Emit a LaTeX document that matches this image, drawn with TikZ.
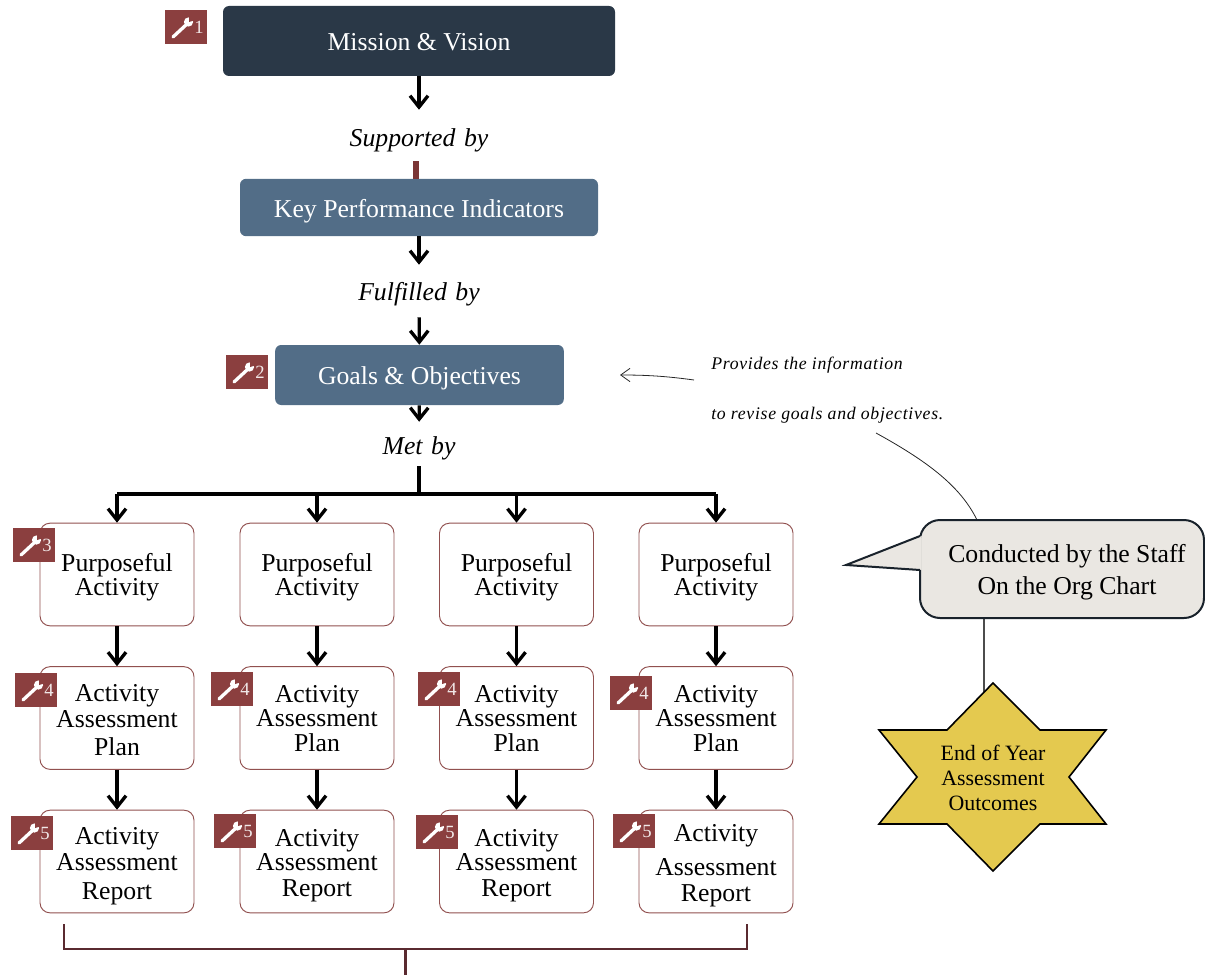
\documentclass[tikz,border=0pt]{standalone}
\usepackage{fontspec}
\setmainfont{Liberation Serif}
\newfontfamily\notefont[LetterSpace=4,ItalicFont={Liberation Serif Italic}]{Liberation Serif}
\usetikzlibrary{arrows.meta}
\usetikzlibrary{positioning}
\definecolor{navy}{HTML}{2A3847}
\definecolor{slate}{HTML}{526D87}
\definecolor{brick}{HTML}{8B3F3F}
\definecolor{edge}{HTML}{91504F}
\definecolor{stub}{HTML}{7B3535}
\definecolor{bracket}{HTML}{5A2A30}
\definecolor{paper}{HTML}{EAE7E2}
\definecolor{gold}{HTML}{E4C94F}
\newcommand{\drop}[1]{\rule{0pt}{#1}}
\tikzset{banner/.style={rectangle,rounded corners=4.5pt,text=white,inner sep=0pt,text height=14.5pt,text depth=0pt,
font=\fontsize{19.3}{22}\selectfont},
phrase/.style={inner sep=0pt,text height=14.5pt,text depth=0pt,text width=200pt,align=center,font=\fontsize{19.3}{22}\selectfont\itshape},
activity/.style={rectangle,draw=edge,line width=.7pt,fill=white,rounded corners=7.5pt,inner sep=0pt,
minimum width=115.5pt,minimum height=77pt,align=center,font=\fontsize{19.3}{18}\selectfont},
badge/.style={rectangle,fill=brick,text=white!88!brick,inner sep=0pt,minimum width=31.5pt,minimum height=25.5pt,
align=right,text width=26.5pt,font=\fontsize{14}{14}\selectfont},
note/.style={inner sep=0pt,anchor=west,font=\fontsize{13.3}{15}\notefont\itshape},
flow/.style={->,line width=2.5pt,black},
thin line/.style={line width=.6pt,black!85},
wrench/.pic={
  \draw [white,line width=2.5pt,line cap=round] (-13,10) -- (1,-3);
  \fill [white] (2.5,-5) circle (4.6);
  \fill [brick] (3,-5) -- (3,-12) -- (10,-7) -- cycle;
},
>={Straight Barb[length=8.5pt,width=13.5pt]}}
\begin{document}
\begin{tikzpicture}[x=.75pt,y=-.75pt]
  \useasboundingbox (0,0) rectangle (1205,977);
  % top column
  \node (mission) [banner,fill=navy,minimum width=294pt,minimum height=52.5pt] at (419,41) {Mission \& Vision};
  \node (supported) [phrase,minimum height=40.5pt] at (419,137) {Supported by};
  \node (kpi) [banner,fill=slate,minimum width=268.5pt,minimum height=43pt] at (419,207.5) {Key Performance Indicators};
  \node (fulfilled) [phrase,minimum height=39pt] at (419,291) {Fulfilled by};
  \node (goals) [banner,fill=slate,minimum width=216.5pt,minimum height=45pt] at (419.5,375) {Goals \& Objectives};
  \node (metby) [phrase,minimum height=34.5pt] at (419,445) {Met by};
  \coordinate (bus) at (419,494);
  % boxes
  \node (pa1) [activity] at (117,574.5) {\drop{18.4pt}Purposeful\\Activity};
  \node (pa2) [activity] at (317,574.5) {\drop{18.4pt}Purposeful\\Activity};
  \node (pa3) [activity] at (516.5,574.5) {\drop{18.4pt}Purposeful\\Activity};
  \node (pa4) [activity] at (716,574.5) {\drop{18.4pt}Purposeful\\Activity};
  \node (plan1) [activity] at (117,718) {\drop{16pt}Activity\\[2pt]Assessment\\[3pt]Plan};
  \node (plan2) [activity] at (317,718) {\drop{14pt}Activity\\Assessment\\[1pt]Plan};
  \node (plan3) [activity] at (516.5,718) {\drop{14pt}Activity\\Assessment\\[1pt]Plan};
  \node (plan4) [activity] at (716,718) {\drop{14pt}Activity\\Assessment\\[1pt]Plan};
  \node (report1) [activity] at (117,861.5) {\drop{19.8pt}Activity\\[1.5pt]Assessment\\[4pt]Report};
  \node (report2) [activity] at (317,861.5) {\drop{19pt}Activity\\Assessment\\[2pt]Report};
  \node (report3) [activity] at (516.5,861.5) {\drop{19pt}Activity\\Assessment\\[2pt]Report};
  \node (report4) [activity] at (716,861.5) {\drop{19pt}Activity\\[8pt]Assessment\\[1.5pt]Report};
  % flow
  \draw [flow] (mission) -- (supported);
  \draw [line width=4.5pt,stub,shorten <=-2.25pt] ([xshift=-2.25pt]supported.south) -- ([xshift=-2.25pt]kpi.north);
  \draw [flow] (kpi) -- (fulfilled);
  \draw [flow] (fulfilled) -- (goals);
  \draw [flow] (goals) -- (metby);
  \draw [line width=2.8pt,line cap=rect] (metby.south) -- (bus);
  \draw [line width=2.5pt] (bus -| pa1) -- (bus -| pa4);
  \draw [flow] (bus -| pa1) -- (pa1);
  \draw [flow] (bus -| pa2) -- (pa2);
  \draw [flow] (bus -| pa3) -- (pa3);
  \draw [flow] (bus -| pa4) -- (pa4);
  \draw [flow] (pa1) -- (plan1);
  \draw [flow] (pa2) -- (plan2);
  \draw [flow] (pa3) -- (plan3);
  \draw [flow] (pa4) -- (plan4);
  \draw [flow] (plan1) -- (report1);
  \draw [flow] (plan2) -- (report2);
  \draw [flow] (plan3) -- (report3);
  \draw [flow] (plan4) -- (report4);
  % badges
  \node (b1) [badge] at (186,27) {1}; \pic at (b1) {wrench};
  \node (b2) [badge] at (247,372) {2}; \pic at (b2) {wrench};
  \node (b3) [badge] at (34,545) {3}; \pic at (b3) {wrench};
  \node (b4a) [badge] at (36,690) {4}; \pic at (b4a) {wrench};
  \node (b4b) [badge] at (232,689) {4}; \pic at (b4b) {wrench};
  \node (b4c) [badge] at (439,689) {4}; \pic at (b4c) {wrench};
  \node (b4d) [badge] at (631,693) {4}; \pic at (b4d) {wrench};
  \node (b5a) [badge] at (32,833) {5}; \pic at (b5a) {wrench};
  \node (b5b) [badge] at (235,831) {5}; \pic at (b5b) {wrench};
  \node (b5c) [badge] at (437,832) {5}; \pic at (b5c) {wrench};
  \node (b5d) [badge] at (634,831) {5}; \pic at (b5d) {wrench};
  % bracket
  \coordinate (bl) at (64,924);
  \coordinate (br) at (747,924);
  \coordinate (bm) at (405,949);
  \coordinate (bs) at (405,975);
  \draw [bracket,line width=1pt] (bl) |- (bm) -| (br);
  \draw [bracket,line width=2.25pt] (bm) -- (bs);
  % notes
  \node (provides) [note] at (711,365) {Provides the information};
  \node (revise) [note] at (711,415) {to revise goals and objectives.};
  \coordinate (arrowfrom) at (694,380);
  \coordinate (arrowto) at (620,375);
  \coordinate (curvefrom) at (876,433);
  \coordinate (curveto) at (977,520);
  \draw [thin line,-{Straight Barb[length=7pt,width=10pt]}] (arrowfrom) .. controls (665,376) and (645,375) .. (arrowto);
  \draw [thin line] (curvefrom) .. controls (925,460) and (960,485) .. (curveto);
  % callout and star
  \coordinate (stafffoot) at (984,618);
  \coordinate (startop) at (984,700);
  \draw [black!70,line width=.8pt] (stafffoot) -- (startop);
  \node (staff) [rectangle,draw=navy!60!black,fill=paper,line width=1.5pt,rounded corners=15pt,inner sep=0pt,
    minimum width=213pt,minimum height=73.5pt,align=center,font=\fontsize{19.3}{24}\selectfont] at (1062,569)
    {\drop{19pt}\hspace*{7.5pt}Conducted by the Staff\\\hspace*{7.5pt}On the Org Chart};
  \fill [paper] (921.5,536) -- (846,565) -- (921.5,570) -- cycle;
  \draw [navy!60!black,line width=1.5pt,line join=miter] (920,536) -- (846,565) -- (920,570);
  \filldraw [fill=gold,draw=black,line width=1.2pt,line join=miter] (993,683) -- (1040,730) -- (1106,730) -- (1069,777) -- (1106,824)
    -- (1040,824) -- (993,871) -- (947,824) -- (879,824) -- (917,777) -- (879,730) -- (947,730) -- cycle;
  \node (outcomes) [inner sep=0pt,align=center,font=\fontsize{16.4}{19}\selectfont] at (993,778) {End of Year\\Assessment\\Outcomes};
\end{tikzpicture}
\end{document}
